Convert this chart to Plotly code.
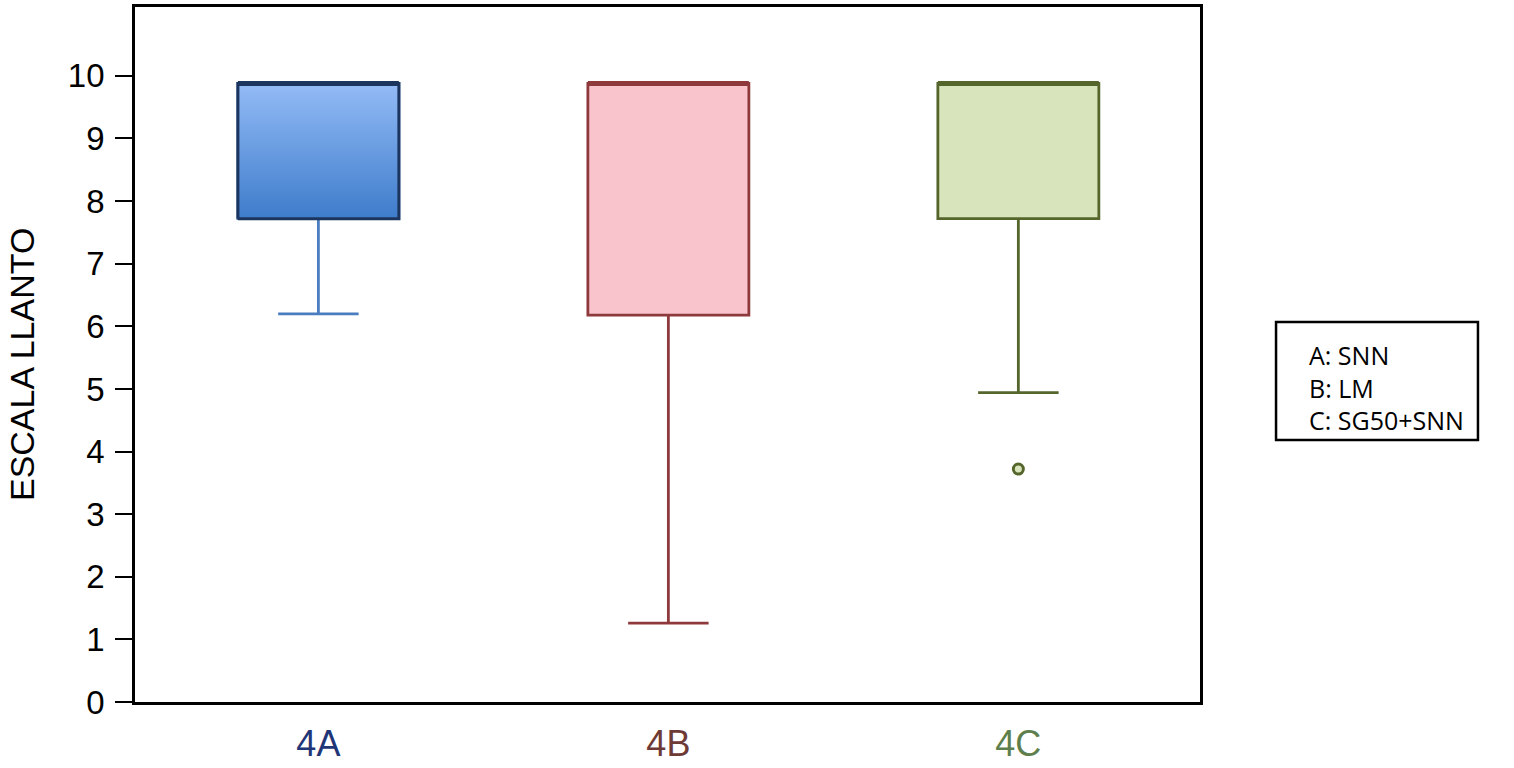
import plotly.graph_objects as go

# Datos
grupos = ['4A', '4B', '4C']
posiciones = [0, 1, 2]
q1 = [7.72, 6.18, 7.72]
mediana = [9.88, 9.88, 9.88]
q3 = [9.88, 9.88, 9.88]
bigote_inf = [6.20, 1.26, 4.94]
bigote_sup = [9.88, 9.88, 9.88]
atipicos_x = [2]
atipicos_y = [3.72]
leyenda = ['A: SNN', 'B: LM', 'C: SG50+SNN']

COLORES = {
    'borde': ['#1c355e', '#8e3a3d', '#55662c'],
    'bigote': ['#4a7cc0', '#8e3a3d', '#55662c'],
    'relleno': ['rgba(0,0,0,0)', '#f9c4cc', '#d8e4bb'],
    'etiqueta': ['#1f3677', '#6e3a36', '#5e7f4c'],
}
ANCHO = 0.46

fig = go.Figure()

for i, g in enumerate(grupos):
    fig.add_trace(go.Box(
        x=[posiciones[i]],
        q1=[q1[i]], median=[mediana[i]], q3=[q3[i]],
        lowerfence=[bigote_inf[i]], upperfence=[bigote_sup[i]],
        width=ANCHO, whiskerwidth=0.5,
        fillcolor=COLORES['relleno'][i],
        line=dict(color=COLORES['bigote'][i], width=2.8),
        boxpoints=False, name=g, showlegend=False,
        hoverinfo='skip'
    ))

# Caja 4A con degradado vertical
x0, x1 = posiciones[0] - ANCHO / 2, posiciones[0] + ANCHO / 2
fig.add_trace(go.Scatter(
    x=[x0, x1, x1, x0, x0],
    y=[q1[0], q1[0], q3[0], q3[0], q1[0]],
    mode='lines', fill='toself',
    fillgradient=dict(type='vertical',
                      colorscale=[[0, '#3e7ccb'], [1, '#93bbf6']]),
    line=dict(color=COLORES['borde'][0], width=3),
    showlegend=False, hoverinfo='skip'
))

# Medianas (coinciden con Q3, línea más gruesa)
for i in range(len(grupos)):
    fig.add_trace(go.Scatter(
        x=[posiciones[i] - ANCHO / 2, posiciones[i] + ANCHO / 2],
        y=[mediana[i], mediana[i]],
        mode='lines',
        line=dict(color=COLORES['borde'][i], width=5),
        showlegend=False, hoverinfo='skip'
    ))

fig.add_trace(go.Scatter(
    x=atipicos_x, y=atipicos_y, mode='markers',
    marker=dict(size=10, color='#d8e4bb',
                line=dict(color=COLORES['borde'][2], width=3)),
    showlegend=False, hoverinfo='skip'
))

ticktext = [f"<span style='color:{c}'>{g}</span>"
            for g, c in zip(grupos, COLORES['etiqueta'])]

fig.update_layout(
    template='none',
    width=1514, height=768,
    paper_bgcolor='white', plot_bgcolor='white',
    margin=dict(l=135, r=314, t=7, b=66),
    xaxis=dict(
        range=[-0.524, 2.519], tickvals=posiciones, ticktext=ticktext,
        showgrid=False, zeroline=False, ticks='', automargin=False,
        showline=True, linecolor='black', linewidth=2.8, mirror=True,
        tickfont=dict(family='Liberation Sans, Arial', size=36),
        ticklabelstandoff=8
    ),
    yaxis=dict(
        range=[0, 11.1], tickvals=list(range(0, 11)),
        showgrid=False, zeroline=False, automargin=False,
        ticks='outside', ticklen=17, tickwidth=2, tickcolor='black',
        showline=True, linecolor='black', linewidth=2.8, mirror=True,
        tickfont=dict(family='Liberation Sans, Arial', size=33, color='black'),
        ticklabelstandoff=4
    ),
    shapes=[dict(type='rect', xref='paper', yref='paper',
                 x0=1.0714, x1=1.2610, y0=0.377, y1=0.5468,
                 line=dict(color='black', width=2.5), fillcolor='white')],
    annotations=[
        dict(text='<br>'.join(leyenda), xref='paper', yref='paper',
             x=1.1005, y=0.4532, xanchor='left', yanchor='middle',
             align='left', showarrow=False,
             font=dict(family='Open Sans', size=25, color='black')),
        dict(text='ESCALA LLANTO', xref='paper', yref='paper',
             x=-0.106, y=0.485, textangle=-90, showarrow=False,
             xanchor='center', yanchor='middle',
             font=dict(family='Liberation Sans, Arial', size=34, color='black')),
    ]
)

fig.write_html("out.html", config={'displayModeBar': False},
               post_script="document.body.style.margin='0';")
